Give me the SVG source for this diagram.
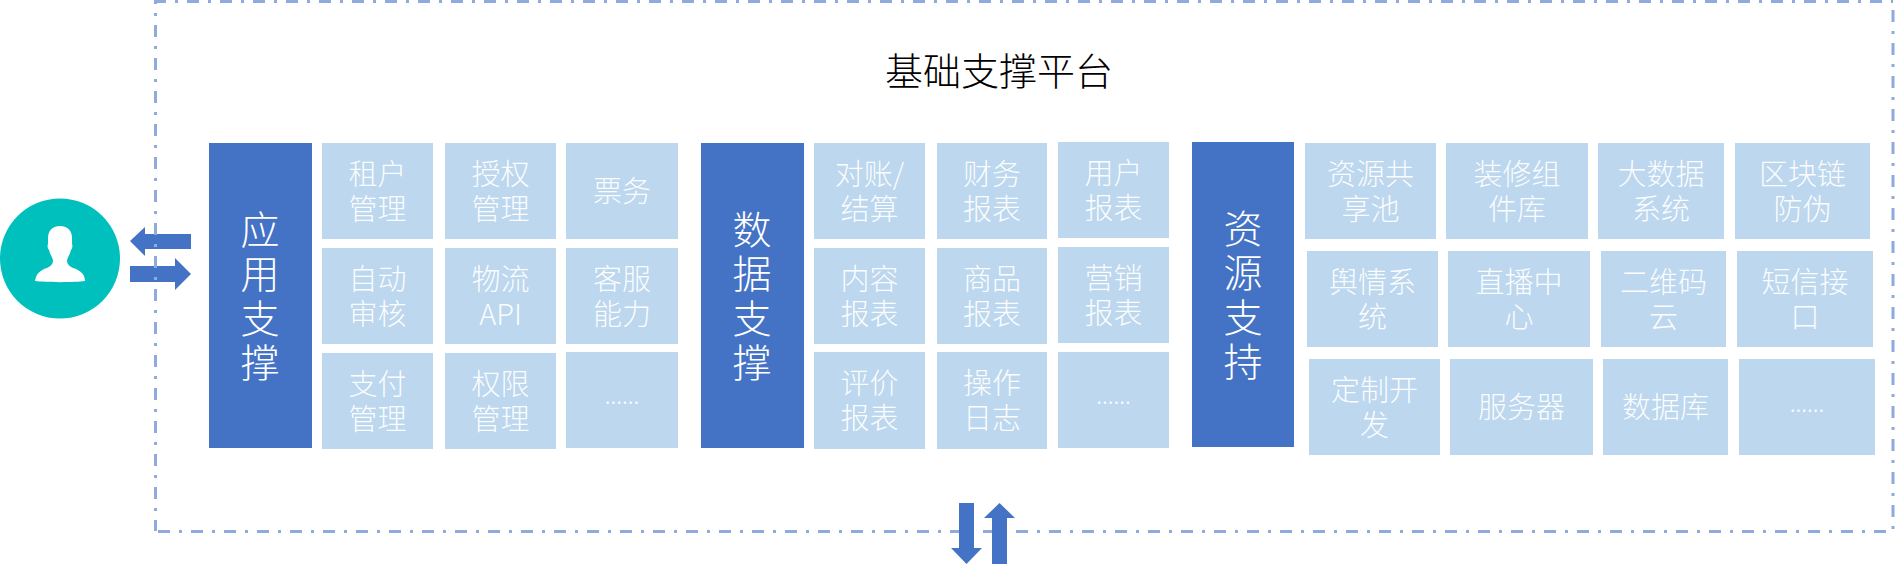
<svg xmlns="http://www.w3.org/2000/svg" width="1895" height="564" viewBox="0 0 1895 564">
<style>
text{font-family:"Noto Sans CJK SC","Microsoft YaHei",sans-serif;text-anchor:middle;font-weight:300}
.c rect{fill:#BDD7EE}
.c text{fill:#fff;fill-opacity:.95;font-size:29px}
.c text.m{font-size:23px}
.d rect{fill:#4472C4}
.d text{fill:#fff;font-size:39px}
.a{fill:#4472C4}
.b{fill:none;stroke:#8FAADC;stroke-width:3;stroke-dasharray:12 9 3 9}
.t{font-size:38px;fill:#000}
</style>
<rect width="1895" height="564" fill="#fff"/>
<g id="connectors">
<path class="a" d="M130 241L145 227V234H191V249H145V256Z"/>
<path class="a" d="M130 266H175V258L191 274L175 290V282H130Z"/>
<path class="b" d="M154 1.500H1893"/>
<path class="b" d="M1893 10V531"/>
<path class="b" d="M158 531.500H1893"/>
<path class="b" d="M155.500 -8V531"/>
<path class="a" d="M959 503H974V548H982L966.500 564L951 548H959Z"/>
<path class="a" d="M999.500 503L1015 518H1007V564H992V518H984Z"/>
</g>
<g id="user">
<circle cx="60" cy="258.500" r="60" fill="#00C0BE"/>
<path fill="#fff" d="M60 226C68 226 72 231 72 238V244C73 246 72 249 71 250C70 254 68 257 67 260C67 264 69 266 73 268C80 270 85 274 85 281C75 282.500 45 282.500 35 281C36 274 40 270 47 268C51 266 53 264 53 260C52 257 50 254 49 250C48 249 47 246 48 244V238C48 231 52 226 60 226Z"/>
</g>
<text class="t" x="999" y="85">基础支撑平台</text>
<g id="g1-head" class="d"><rect x="209" y="143" width="103" height="305"/><text y="244"><tspan x="260">应</tspan><tspan x="260" dy="44.400">用</tspan><tspan x="260" dy="44.400">支</tspan><tspan x="260" dy="44.400">撑</tspan></text></g>
<g id="n-zuhu" class="c"><rect x="322" y="143" width="111" height="96"/><text y="185"><tspan x="377.500">租户</tspan><tspan x="377.500" dy="35">管理</tspan></text></g>
<g id="n-shouquan" class="c"><rect x="445" y="143" width="111" height="96"/><text y="185"><tspan x="500.500">授权</tspan><tspan x="500.500" dy="35">管理</tspan></text></g>
<g id="n-piaowu" class="c"><rect x="566" y="143" width="112" height="96"/><text x="622" y="202">票务</text></g>
<g id="n-zidong" class="c"><rect x="322" y="248" width="111" height="96"/><text y="290"><tspan x="377.500">自动</tspan><tspan x="377.500" dy="35">审核</tspan></text></g>
<g id="n-wuliu" class="c"><rect x="445" y="248" width="111" height="96"/><text y="290"><tspan x="500.500">物流</tspan><tspan x="500.500" dy="35">API</tspan></text></g>
<g id="n-kefu" class="c"><rect x="566" y="248" width="112" height="96"/><text y="290"><tspan x="622">客服</tspan><tspan x="622" dy="35">能力</tspan></text></g>
<g id="n-zhifu" class="c"><rect x="322" y="353" width="111" height="96"/><text y="395"><tspan x="377.500">支付</tspan><tspan x="377.500" dy="35">管理</tspan></text></g>
<g id="n-quanxian" class="c"><rect x="445" y="353" width="111" height="96"/><text y="395"><tspan x="500.500">权限</tspan><tspan x="500.500" dy="35">管理</tspan></text></g>
<g id="n-more1" class="c"><rect x="566" y="352" width="112" height="96"/><text class="m" x="622" y="404">......</text></g>
<g id="g2-head" class="d"><rect x="701" y="143" width="103" height="305"/><text y="244"><tspan x="752">数</tspan><tspan x="752" dy="44.400">据</tspan><tspan x="752" dy="44.400">支</tspan><tspan x="752" dy="44.400">撑</tspan></text></g>
<g id="n-duizhang" class="c"><rect x="814" y="143" width="111" height="96"/><text y="185"><tspan x="869.500">对账/</tspan><tspan x="869.500" dy="35">结算</tspan></text></g>
<g id="n-caiwu" class="c"><rect x="937" y="143" width="110" height="96"/><text y="185"><tspan x="992">财务</tspan><tspan x="992" dy="35">报表</tspan></text></g>
<g id="n-yonghu" class="c"><rect x="1058" y="142" width="111" height="96"/><text y="184"><tspan x="1113.500">用户</tspan><tspan x="1113.500" dy="35">报表</tspan></text></g>
<g id="n-neirong" class="c"><rect x="814" y="248" width="111" height="96"/><text y="290"><tspan x="869.500">内容</tspan><tspan x="869.500" dy="35">报表</tspan></text></g>
<g id="n-shangpin" class="c"><rect x="937" y="248" width="110" height="96"/><text y="290"><tspan x="992">商品</tspan><tspan x="992" dy="35">报表</tspan></text></g>
<g id="n-yingxiao" class="c"><rect x="1058" y="247" width="111" height="96"/><text y="289"><tspan x="1113.500">营销</tspan><tspan x="1113.500" dy="35">报表</tspan></text></g>
<g id="n-pingjia" class="c"><rect x="814" y="352" width="111" height="97"/><text y="394"><tspan x="869.500">评价</tspan><tspan x="869.500" dy="35">报表</tspan></text></g>
<g id="n-caozuo" class="c"><rect x="937" y="352" width="110" height="97"/><text y="394"><tspan x="992">操作</tspan><tspan x="992" dy="35">日志</tspan></text></g>
<g id="n-more2" class="c"><rect x="1058" y="352" width="111" height="96"/><text class="m" x="1113.500" y="404">......</text></g>
<g id="g3-head" class="d"><rect x="1192" y="142" width="102" height="305"/><text y="243"><tspan x="1243">资</tspan><tspan x="1243" dy="44.400">源</tspan><tspan x="1243" dy="44.400">支</tspan><tspan x="1243" dy="44.400">持</tspan></text></g>
<g id="n-ziyuan" class="c"><rect x="1305" y="143" width="131" height="96"/><text y="185"><tspan x="1370.500">资源共</tspan><tspan x="1370.500" dy="35">享池</tspan></text></g>
<g id="n-zhuangxiu" class="c"><rect x="1446" y="143" width="142" height="96"/><text y="185"><tspan x="1517">装修组</tspan><tspan x="1517" dy="35">件库</tspan></text></g>
<g id="n-dashuju" class="c"><rect x="1598" y="143" width="126" height="96"/><text y="185"><tspan x="1661">大数据</tspan><tspan x="1661" dy="35">系统</tspan></text></g>
<g id="n-qukuailian" class="c"><rect x="1735" y="143" width="135" height="96"/><text y="185"><tspan x="1802.500">区块链</tspan><tspan x="1802.500" dy="35">防伪</tspan></text></g>
<g id="n-yuqing" class="c"><rect x="1307" y="251" width="131" height="96"/><text y="293"><tspan x="1372.500">舆情系</tspan><tspan x="1372.500" dy="35">统</tspan></text></g>
<g id="n-zhibo" class="c"><rect x="1448" y="251" width="142" height="96"/><text y="293"><tspan x="1519">直播中</tspan><tspan x="1519" dy="35">心</tspan></text></g>
<g id="n-erweima" class="c"><rect x="1601" y="251" width="125" height="96"/><text y="293"><tspan x="1663.500">二维码</tspan><tspan x="1663.500" dy="35">云</tspan></text></g>
<g id="n-duanxin" class="c"><rect x="1737" y="251" width="136" height="96"/><text y="293"><tspan x="1805">短信接</tspan><tspan x="1805" dy="35">口</tspan></text></g>
<g id="n-dingzhi" class="c"><rect x="1309" y="359" width="131" height="96"/><text y="401"><tspan x="1374.500">定制开</tspan><tspan x="1374.500" dy="35">发</tspan></text></g>
<g id="n-fuwuqi" class="c"><rect x="1450" y="359" width="143" height="96"/><text x="1521.500" y="418">服务器</text></g>
<g id="n-shujuku" class="c"><rect x="1603" y="359" width="125" height="96"/><text x="1665.500" y="418">数据库</text></g>
<g id="n-more3" class="c"><rect x="1739" y="359" width="136" height="96"/><text class="m" x="1807" y="412">......</text></g>
</svg>
